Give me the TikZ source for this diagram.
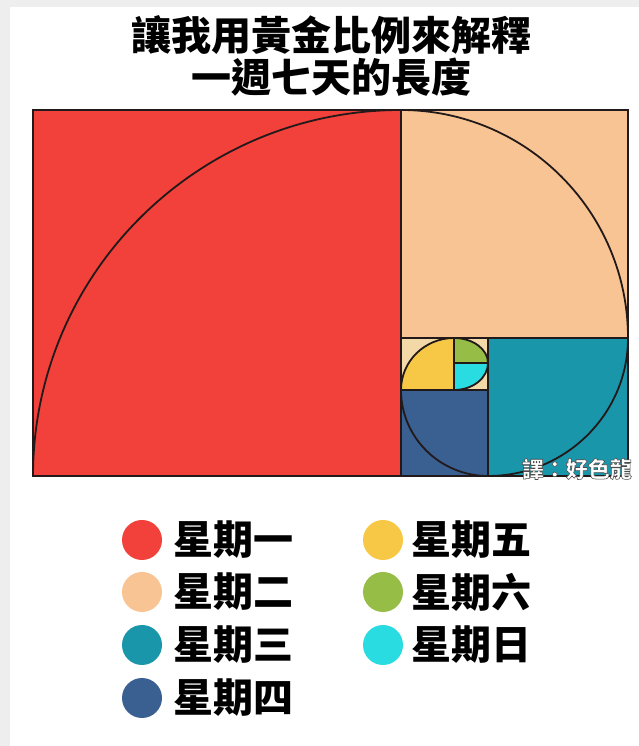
\documentclass[tikz,border=0pt]{standalone}
\usepackage{fontspec}
\usepackage{xcolor}
\usepackage{tikz}
\usetikzlibrary{positioning}
\newfontfamily\cjk{Noto Sans CJK TC}
\definecolor{pageGray}{HTML}{EEEEEE}
\definecolor{mondayRed}{HTML}{F2403A}
\definecolor{tuesdayPeach}{HTML}{F9C494}
\definecolor{wednesdayTeal}{HTML}{1996AA}
\definecolor{thursdayBlue}{HTML}{3A5F91}
\definecolor{fridayYellow}{HTML}{F7C846}
\definecolor{saturdayGreen}{HTML}{96BE46}
\definecolor{sundayCyan}{HTML}{28DCE1}
\definecolor{cornerCream}{HTML}{F3D8A8}
\definecolor{lineDark}{HTML}{221A1A}
% outlined text: fill, then stroke in grey
\newcommand{\outlined}[1]{\special{pdf:literal direct 2 Tr 0.55 w 0.3 0.3 0.3 RG}#1\special{pdf:literal direct 0 Tr}}
\tikzset{
  cell/.style={draw=lineDark, line width=1.6pt},
  spiral/.style={draw=lineDark, line width=1.8pt},
  frame/.style={draw=lineDark, line width=2.4pt},
  title/.style={align=center, inner sep=0pt, font=\cjk\bfseries\fontsize{40}{42}\selectfont},
  daydot/.style={circle, minimum size=40pt, inner sep=0pt},
  daylabel/.style={inner sep=0pt, font=\cjk\bfseries\fontsize{40}{42}\selectfont},
  watermark/.style={inner sep=0pt, text=white, font=\cjk\bfseries\fontsize{22}{24}\selectfont}
}

\begin{document}
\begin{tikzpicture}[x=1pt, y=1pt]
	\useasboundingbox (0,0) rectangle (639,746);
	\fill[pageGray] (0,0) rectangle (639,746);
	\fill[white] (10,0) rectangle (639,739);

	% squares of the spiral
	\fill[mondayRed] (33,270) rectangle (401,636);
	\fill[tuesdayPeach] (401,408) rectangle (628,636);
	\fill[wednesdayTeal] (488,270) rectangle (628,408);
	\fill[thursdayBlue] (401,270) rectangle (488,356);
	\fill[cornerCream] (401,356) rectangle (488,408);
	\fill[fridayYellow] (454,356) -- (401,356) arc[start angle=180, end angle=90, x radius=53, y radius=52] -- cycle;
	\fill[saturdayGreen] (454,383) -- (454,408) arc[start angle=90, end angle=0, x radius=34, y radius=25] -- cycle;
	\fill[sundayCyan] (454,383) -- (488,383) arc[start angle=0, end angle=-90, x radius=34, y radius=27] -- cycle;

	\draw[cell] (401,270) -- (401,636);
	\draw[cell] (401,408) -- (628,408);
	\draw[cell] (488,270) -- (488,408);
	\draw[cell] (401,356) -- (488,356);
	\draw[cell] (454,356) -- (454,408);
	\draw[cell] (454,383) -- (488,383);

	\draw[spiral] (33,270) arc[start angle=180, end angle=90, x radius=368, y radius=366]
		arc[start angle=90, end angle=0, x radius=227, y radius=228]
		arc[start angle=0, end angle=-90, x radius=140, y radius=138]
		arc[start angle=-90, end angle=-180, x radius=87, y radius=86]
		arc[start angle=180, end angle=90, x radius=53, y radius=52]
		arc[start angle=90, end angle=0, x radius=34, y radius=25]
		arc[start angle=0, end angle=-90, x radius=34, y radius=27];
	\draw[frame] (33,270) rectangle (628,636);

	\node[watermark, anchor=east] (credit) at (632,277) {\outlined{譯：好色龍}};

	\node[title] (heading) at (331,690) {讓我用黃金比例來解釋\\一週七天的長度};

	% legend
	\node[daydot, fill=mondayRed] (mondot) at (142,206) {};
	\node[daydot, fill=tuesdayPeach] (tuedot) at (142,154) {};
	\node[daydot, fill=wednesdayTeal] (weddot) at (142,101) {};
	\node[daydot, fill=thursdayBlue] (thudot) at (142,48) {};
	\node[daydot, fill=fridayYellow] (fridot) at (383,206) {};
	\node[daydot, fill=saturdayGreen] (satdot) at (383,154) {};
	\node[daydot, fill=sundayCyan] (sundot) at (383,101) {};

	\node[daylabel, right=11pt of mondot] (monlabel) {星期一};
	\node[daylabel, right=11pt of tuedot] (tuelabel) {星期二};
	\node[daylabel, right=11pt of weddot] (wedlabel) {星期三};
	\node[daylabel, right=11pt of thudot] (thulabel) {星期四};
	\node[daylabel, right=8pt of fridot] (frilabel) {星期五};
	\node[daylabel, right=8pt of satdot] (satlabel) {星期六};
	\node[daylabel, right=8pt of sundot] (sunlabel) {星期日};

\end{tikzpicture}
\end{document}
